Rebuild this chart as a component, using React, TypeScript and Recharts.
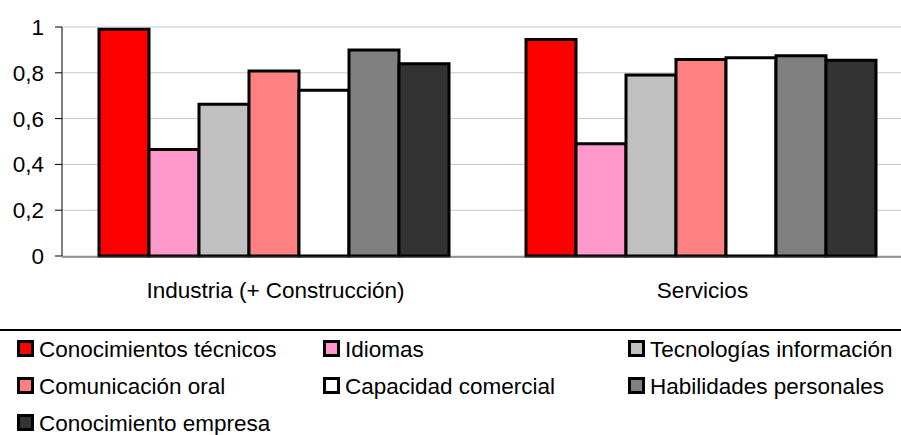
import React from "react";
import { BarChart, Bar, XAxis, YAxis, CartesianGrid } from "recharts";

const categories = ["Industria (+ Construcción)", "Servicios"];
const seriesNames = [
  "Conocimientos técnicos",
  "Idiomas",
  "Tecnologías información",
  "Comunicación oral",
  "Capacidad comercial",
  "Habilidades personales",
  "Conocimiento empresa",
];
const seriesColors = ["#ff0000", "#ff99cc", "#c0c0c0", "#ff8080", "#ffffff", "#808080", "#333333"];

// one value per category (Industria, Servicios)
const conocimientosTecnicos = [0.99, 0.945];
const idiomas = [0.465, 0.49];
const tecnologias = [0.663, 0.79];
const comunicacion = [0.808, 0.858];
const capacidad = [0.724, 0.866];
const habilidades = [0.9, 0.875];
const conocimientoEmpresa = [0.84, 0.855];

const yTicks = [0, 0.2, 0.4, 0.6, 0.8, 1];

const seriesValues = [
  conocimientosTecnicos,
  idiomas,
  tecnologias,
  comunicacion,
  capacidad,
  habilidades,
  conocimientoEmpresa,
];

const data = categories.map((name, ci) => {
  const row: Record<string, string | number> = { name };
  seriesNames.forEach((s, si) => {
    row[s] = seriesValues[si][ci];
  });
  return row;
});

const FONT = '"Liberation Sans", Arial, sans-serif';
const FS = 22.5;

const CatTick = (props: any) => {
  const { x, y, payload } = props;
  return (
    <text x={x} y={y + 42} textAnchor="middle" fontSize={FS} fontFamily={FONT} fill="#000">
      {payload.value}
    </text>
  );
};

const legendCols = [17, 323, 628];
const legendRows = [340, 377, 414];

export default function App() {
  return (
    <div
      style={{
        position: "absolute",
        left: 0,
        top: 0,
        width: 901,
        height: 435,
        overflow: "hidden",
        background: "#fff",
        fontFamily: FONT,
      }}
    >
      <BarChart
        width={930}
        height={435}
        data={data}
        margin={{ top: 27, right: 14, bottom: 177, left: 0 }}
        barCategoryGap={37}
        barGap={0}
      >
        <CartesianGrid vertical={false} stroke="#c8c8c8" strokeWidth={1} />
        <XAxis
          dataKey="name"
          height={1}
          axisLine={false}
          tickLine={false}
          tickSize={0}
          tickMargin={0}
          tick={<CatTick />}
          interval={0}
        />
        <XAxis
          xAxisId="edge"
          type="number"
          domain={[0, 2]}
          ticks={[0, 1, 2]}
          allowDataOverflow
          height={1}
          tick={false}
          tickSize={7}
          axisLine={{ stroke: "#404040", strokeWidth: 1 }}
          tickLine={{ stroke: "#404040", strokeWidth: 1 }}
        />
        <YAxis
          width={62}
          domain={[0, 1]}
          ticks={yTicks}
          interval={0}
          tickSize={7}
          tickMargin={11}
          axisLine={{ stroke: "#000", strokeWidth: 1 }}
          tickLine={{ stroke: "#000", strokeWidth: 1 }}
          tick={{ fontSize: FS, fontFamily: FONT, fill: "#000" }}
          tickFormatter={(v: number) => String(v).replace(".", ",")}
        />
        {seriesNames.map((s, i) => (
          <Bar
            key={s}
            dataKey={s}
            fill={seriesColors[i]}
            stroke="#000"
            strokeWidth={3}
            isAnimationActive={false}
          />
        ))}
      </BarChart>

      {/* legend */}
      <div
        style={{
          position: "absolute",
          left: 0,
          top: 329,
          width: 901,
          height: 2,
          background: "#000",
        }}
      />
      {seriesNames.map((s, i) => {
        const left = legendCols[i % 3];
        const top = legendRows[Math.floor(i / 3)];
        return (
          <React.Fragment key={s}>
            <div
              style={{
                position: "absolute",
                left,
                top,
                width: 17,
                height: 17,
                boxSizing: "border-box",
                border: "3px solid #000",
                background: seriesColors[i],
              }}
            />
            <div
              style={{
                position: "absolute",
                left: left + 22,
                top: top - 3,
                fontSize: FS,
                lineHeight: "26px",
                color: "#000",
                whiteSpace: "nowrap",
              }}
            >
              {s}
            </div>
          </React.Fragment>
        );
      })}
    </div>
  );
}
